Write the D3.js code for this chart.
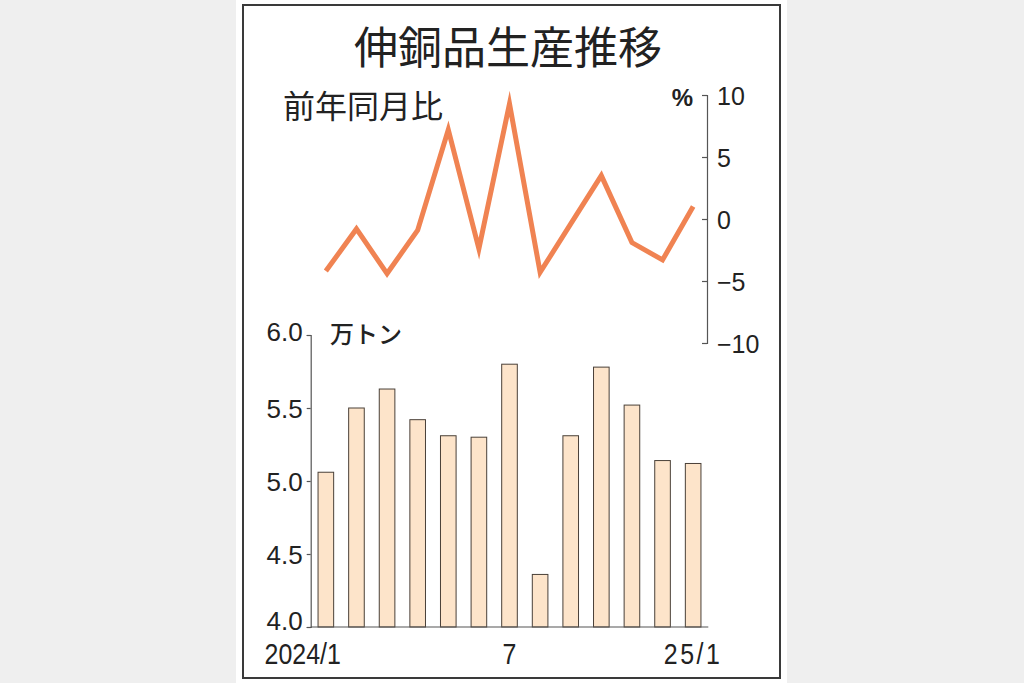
<!DOCTYPE html>
<html>
<head>
<meta charset="utf-8">
<script src="https://cdn.jsdelivr.net/npm/d3@7"></script>
<style>
  html, body { margin: 0; padding: 0; background: #efefef; }
  svg { display: block; }
</style>
</head>
<body>
<svg id="chart" width="1024" height="683"></svg>
<script>
// ---- data ----
const months = ["2024/1","2024/2","2024/3","2024/4","2024/5","2024/6","2024/7","2024/8","2024/9","2024/10","2024/11","2024/12","2025/1"];
const production = [5.06, 5.50, 5.63, 5.42, 5.31, 5.30, 5.80, 4.36, 5.31, 5.78, 5.52, 5.14, 5.12]; // 万トン
const yoy = [-4.2, -0.8, -4.4, -0.9, 7.2, -2.4, 9.3, -4.3, -0.4, 3.5, -1.9, -3.3, 1.0]; // %
const barTicks = [4.0, 4.5, 5.0, 5.5, 6.0];
const lineTicks = [-10, -5, 0, 5, 10];
const xTickLabels = ["2024/1", "7", "25/1"];
const xTickIndex = [0, 6, 12];
const titleText = "伸銅品生産推移";
const lineLabel = "前年同月比";
const barUnit = "万トン";
const lineUnit = "%";

const svg = d3.select("#chart");
const numFont = "'Liberation Sans', Arial, sans-serif";
const cjkFont = "'Noto Sans CJK JP', 'Noto Sans CJK SC', sans-serif";

// panel background + frame
svg.append("rect").attr("x", 236).attr("y", 0).attr("width", 551).attr("height", 683).attr("fill", "#ffffff");
svg.append("rect").attr("x", 243).attr("y", 5).attr("width", 537).attr("height", 673)
  .attr("fill", "#ffffff").attr("stroke", "#3a3a3a").attr("stroke-width", 2);

// title
svg.append("text").attr("x", 508).attr("y", 64).attr("text-anchor", "middle")
  .attr("font-family", cjkFont).attr("font-size", 44).attr("fill", "#222")
  .text(titleText);

// scales
const x = d3.scaleBand().domain(months).range([310.7, 708.3]).paddingInner(0.49).paddingOuter(0.24);
const yBar = d3.scaleLinear().domain([4, 6]).range([627, 335]);
const yLine = d3.scaleLinear().domain([-10, 10]).range([343, 95]);

// bars
svg.append("g").selectAll("rect").data(production).join("rect")
  .attr("x", (d, i) => x(months[i]))
  .attr("y", d => yBar(d))
  .attr("width", x.bandwidth())
  .attr("height", d => yBar(4) - yBar(d))
  .attr("fill", "#fde4ca")
  .attr("stroke", "#4a4038")
  .attr("stroke-width", 1);

// bar y axis
const gBarAxis = svg.append("g").attr("transform", "translate(310.7,0)")
  .call(d3.axisLeft(yBar).tickValues(barTicks).tickFormat(d3.format(".1f")).tickSize(4).tickPadding(4));
gBarAxis.selectAll("text").attr("font-family", numFont).attr("font-size", 26).attr("fill", "#222")
  .attr("dy", d => d === 4 ? "0.1em" : (d === 6 ? "0.2em" : "0.36em"));
gBarAxis.selectAll("line, path").attr("stroke", "#555").attr("stroke-width", 1.2);

// bar x axis baseline
svg.append("line").attr("x1", 310.7).attr("x2", 708.3).attr("y1", yBar(4)).attr("y2", yBar(4))
  .attr("stroke", "#555").attr("stroke-width", 1.2);

// x labels (condensed)
svg.append("g").selectAll("text").data(xTickLabels).join("text")
  .attr("transform", (d, i) => {
    const cx = x(months[xTickIndex[i]]) + x.bandwidth() / 2 + (i === 0 ? 15 : 0);
    return `translate(${cx},664) scale(0.86,1)`;
  })
  .attr("text-anchor", (d, i) => i === 0 ? "end" : "middle")
  .attr("font-family", numFont)
  .attr("font-size", 29).attr("fill", "#222")
  .attr("letter-spacing", (d, i) => i === 2 ? 3 : 0)
  .text(d => d);

// unit label bars
svg.append("text").attr("x", 330).attr("y", 343)
  .attr("font-family", cjkFont).attr("font-size", 24).attr("font-weight", 500).attr("fill", "#222")
  .text(barUnit);

// line right axis
const gLineAxis = svg.append("g").attr("transform", "translate(707,0)")
  .call(d3.axisRight(yLine).tickValues(lineTicks).tickFormat(d => d < 0 ? "\u2212" + Math.abs(d) : d)
    .tickSizeInner(-5).tickSizeOuter(-5).tickPadding(10));
gLineAxis.selectAll("text").attr("font-family", numFont).attr("font-size", 25).attr("fill", "#222").attr("dy", "0.36em");
gLineAxis.selectAll("line, path").attr("stroke", "#555").attr("stroke-width", 1.2);

svg.append("text").attr("x", 693).attr("y", 106).attr("text-anchor", "end")
  .attr("font-family", numFont).attr("font-size", 24).attr("font-weight", "bold").attr("fill", "#222")
  .text(lineUnit);

svg.append("text").attr("x", 283).attr("y", 118)
  .attr("font-family", cjkFont).attr("font-size", 32).attr("fill", "#222")
  .text(lineLabel);

// line
const line = d3.line().x((d, i) => x(months[i]) + x.bandwidth() / 2).y(d => yLine(d));
svg.append("path").datum(yoy).attr("d", line)
  .attr("fill", "none").attr("stroke", "#f08352").attr("stroke-width", 5)
  .attr("stroke-linejoin", "miter").attr("stroke-miterlimit", 10);
</script>
</body>
</html>
